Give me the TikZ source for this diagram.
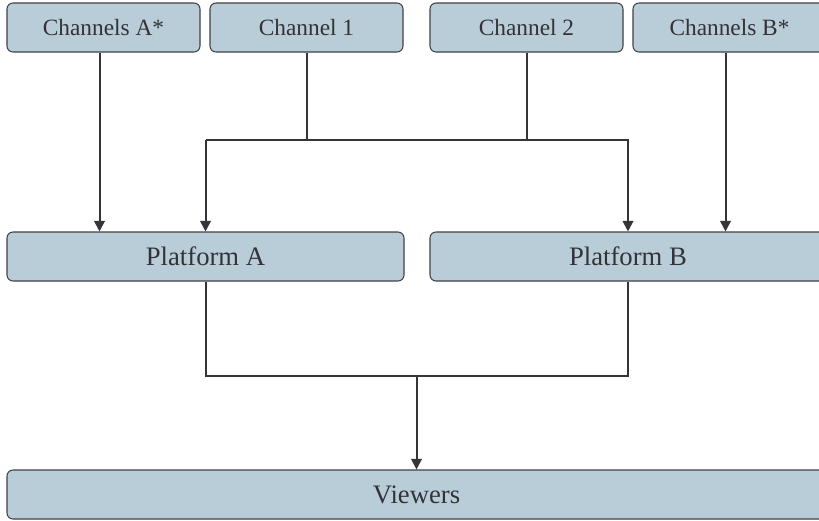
\documentclass[tikz,border=0pt]{standalone}
\usepackage{fontspec}
\setmainfont{Liberation Serif}
\usetikzlibrary{arrows.meta}
\definecolor{boxfill}{RGB}{185,205,216}
\definecolor{boxline}{RGB}{64,64,68}
\definecolor{linkcol}{RGB}{52,52,58}
\definecolor{textcol}{RGB}{51,51,55}
\tikzset{
  box/.style={draw=boxline, fill=boxfill, line width=0.8pt, rounded corners=4.5pt,
    inner sep=0pt, minimum height=36.75pt, text=textcol, font=\fontsize{17.5}{20}\selectfont},
  bigbox/.style={box, font=\fontsize{20}{24}\selectfont},
  link/.style={draw=linkcol, line width=1.5pt},
  arr/.style={link, -{Triangle[length=8pt,width=8pt]}}
}
\begin{document}
\begin{tikzpicture}[x=0.75pt,y=0.75pt,yscale=-1,xscale=1]
\useasboundingbox (0,0) rectangle (819,521);
\clip (0,0) rectangle (819,521);

%Shape: Rounded Rect [channels]
\node (chA) at (103.5,27.5) [box, minimum width=144.75pt] {Channels A*};
\node (ch1) at (306.5,27.5) [box, minimum width=144.75pt] {Channel 1};
\node (ch2) at (526.5,27.5) [box, minimum width=144.75pt] {Channel 2};
\node (chB) at (729.5,27.5) [box, minimum width=144.75pt] {Channels B*};
%Shape: Rounded Rect [platforms]
\node (platA) at (205.5,256.5) [bigbox, minimum width=297.75pt] {Platform A};
\node (platB) at (628,256.5) [bigbox, minimum width=297pt] {Platform B};
%Shape: Rounded Rect [viewers]
\node (viewers) at (416.5,494.5) [bigbox, minimum width=614.25pt] {Viewers};

% Junctions
\coordinate (joinTop) at (416.5,140);
\coordinate (joinBot) at (416.5,376);

% Links
\draw [arr] ([xshift=-3pt]chA.south) -- ([xshift=-3pt]chA.south |- platA.north);
\draw [arr] ([xshift=-3pt]chB.south) -- ([xshift=-3pt]chB.south |- platB.north);
\draw [link] (ch1.south) -- (ch1.south |- joinTop);
\draw [link] (ch2.south) -- (ch2.south |- joinTop);
\draw [arr] (platA.north |- joinTop) -- (platB.north |- joinTop) -- (platB.north);
\draw [arr] (platA.north |- joinTop) -- (platA.north);
\draw [link] (platA.south) -- (platA.south |- joinBot) -- (platB.south |- joinBot) -- (platB.south);
\draw [arr] (joinBot) -- (viewers.north);

\end{tikzpicture}
\end{document}
